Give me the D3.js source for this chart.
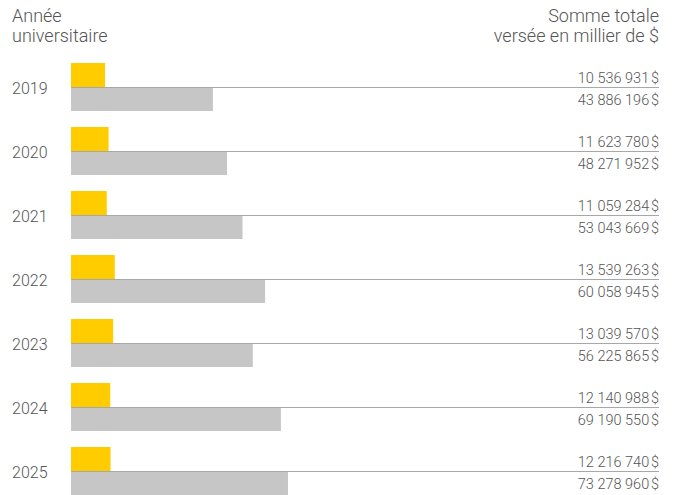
<!DOCTYPE html>
<html>
<head>
<meta charset="utf-8">
<script src="https://cdn.jsdelivr.net/npm/d3@7"></script>
<style>
  body { margin: 0; background: #fff; }
  text { font-family: Roboto, Lato, sans-serif; fill: #555; }
</style>
</head>
<body>
<div id="chart"></div>
<script>
// années universitaires
var years = ['2019', '2020', '2021', '2022', '2023', '2024', '2025'];
// série jaune (haut) et série grise (bas), en $
var topValues = [10536931, 11623780, 11059284, 13539263, 13039570, 12140988, 12216740];
var bottomValues = [43886196, 48271952, 53043669, 60058945, 56225865, 69190550, 73278960];

var width = 675, height = 495;
var left = 71, right = 659;

var svg = d3.select('#chart').append('svg')
    .attr('width', width)
    .attr('height', height);

// rows
var y = d3.scaleBand()
    .domain(years)
    .range([55, 55 + 64 * years.length])
    .padding(0);

// bar length (the source is not quite proportional for the big grey bars)
var x = d3.scaleLinear()
    .domain([0, 60000000, 73300000])
    .range([0, 194, 217]);

function fmt(v) {
    return d3.format(',')(v).replace(/,/g, ' ') + '\u202f$';
}

// header
var hl = svg.append('text').attr('x', 12).attr('y', 22)
    .style('font-size', '18px').style('font-weight', 300);
hl.append('tspan').attr('x', 12).text('Année');
hl.append('tspan').attr('x', 12).attr('dy', 20).text('universitaire');

var hr = svg.append('text').attr('x', right).attr('y', 22)
    .attr('text-anchor', 'end')
    .style('font-size', '18px').style('font-weight', 300);
hr.append('tspan').attr('x', right).text('Somme totale');
hr.append('tspan').attr('x', right).attr('dy', 20).text('versée en millier de $');

var rows = svg.selectAll('g.row')
    .data(years)
    .enter().append('g')
    .attr('class', 'row')
    .attr('transform', function(d) { return 'translate(0,' + y(d) + ')'; });

rows.append('rect')
    .attr('x', left)
    .attr('y', 33)
    .attr('width', function(d, i) { return x(bottomValues[i]); })
    .attr('height', 23)
    .attr('fill', '#c6c6c6');

rows.append('rect')
    .attr('x', left)
    .attr('y', 8)
    .attr('width', function(d, i) { return x(topValues[i]); })
    .attr('height', 24)
    .attr('fill', '#ffcc00');

rows.append('line')
    .attr('x1', left).attr('x2', right)
    .attr('y1', 32.5).attr('y2', 32.5)
    .attr('stroke', '#a8a8a8')
    .attr('stroke-width', 1.2);

rows.append('text')
    .attr('x', 12)
    .attr('y', 39)
    .style('font-size', '16px')
    .style('font-weight', 300)
    .text(function(d) { return d; });

rows.append('text')
    .attr('x', right)
    .attr('y', 28)
    .attr('text-anchor', 'end')
    .style('font-size', '14.5px')
    .style('font-weight', 300)
    .style('letter-spacing', '-0.1px')
    .text(function(d, i) { return fmt(topValues[i]); });

rows.append('text')
    .attr('x', right)
    .attr('y', 50)
    .attr('text-anchor', 'end')
    .style('font-size', '14.5px')
    .style('font-weight', 300)
    .style('letter-spacing', '-0.1px')
    .text(function(d, i) { return fmt(bottomValues[i]); });
</script>
</body>
</html>
